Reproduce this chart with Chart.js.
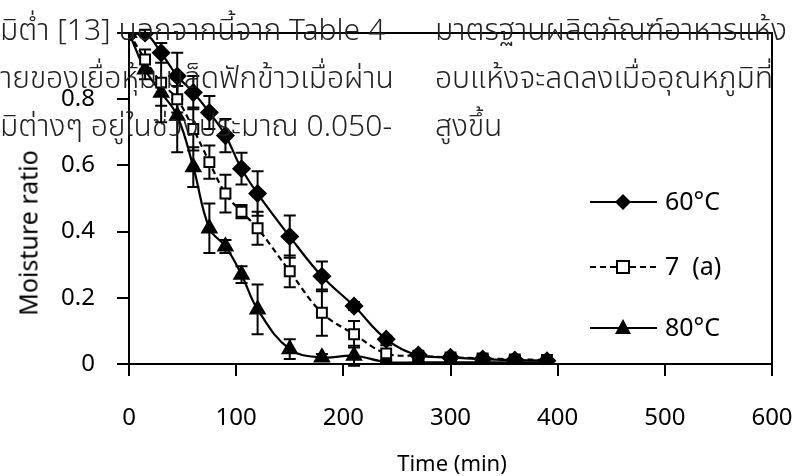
<!DOCTYPE html>
<html>
<head>
<meta charset="utf-8">
<script src="https://cdn.jsdelivr.net/npm/chart.js@4.4.1/dist/chart.umd.min.js"></script>
<style>
  body { margin: 0; background: #fff; }
  #wrap { position: relative; width: 799px; height: 476px; overflow: hidden; }
  #chart { position: absolute; left: 0; top: 0; }
  .txt { position: absolute; white-space: nowrap; font-family: "Noto Sans Thai", "Noto Sans", sans-serif; color: #222; line-height: 1; }
  .page { font-size: 30px; font-weight: 300; }
  .axt { font-size: 22px; color: #000; font-family: "Noto Sans", sans-serif; }
  #ytitle { font-size: 25px; }
</style>
</head>
<body>
<div id="wrap">
  <canvas id="chart" width="799" height="476"></canvas>
  <div class="txt page" style="left:0; top:16px">มิต่ำ [13] นอกจากนี้จาก Table 4</div>
  <div class="txt page" style="left:435px; top:16px">มาตรฐานผลิตภัณฑ์อาหารแห้ง</div>
  <div class="txt page" style="left:0; top:64px">ายของเยื่อหุ้มเมล็ดฟักข้าวเมื่อผ่าน</div>
  <div class="txt page" style="left:435px; top:64px">อบแห้งจะลดลงเมื่ออุณหภูมิที่</div>
  <div class="txt page" style="left:0; top:112px">มิต่างๆ อยู่ในช่วงประมาณ 0.050-</div>
  <div class="txt page" style="left:435px; top:112px">สูงขึ้น</div>
  <div class="txt axt" id="ytitle" style="left:28px; top:233px; transform: translate(-50%,-50%) rotate(-90deg)">Moisture ratio</div>
  <div class="txt axt" id="xtitle" style="left:452px; top:462px; transform: translate(-50%,-50%)">Time (min)</div>
</div>
<script>
// drying time (min)
var times = [0, 15, 30, 45, 60, 75, 90, 105, 120, 150, 180, 210, 240, 270, 300, 330, 360, 390];

// moisture ratio
var mr60 = [1.00, 1.00, 0.94, 0.87, 0.82, 0.76, 0.69, 0.59, 0.515, 0.385, 0.265, 0.175, 0.075, 0.027, 0.02, 0.015, 0.012, 0.01];
var mr7a = [1.00, 0.92, 0.85, 0.80, 0.71, 0.61, 0.515, 0.46, 0.41, 0.28, 0.155, 0.09, 0.032, 0.025, 0.02, 0.017, 0.014, 0.012];
var mr80 = [1.00, 0.89, 0.82, 0.75, 0.595, 0.41, 0.355, 0.27, 0.165, 0.045, 0.02, 0.025, 0.006, 0.005, 0.005, 0.005, 0.005, 0.005];

// +/- error
var err60 = [0, 0.01, 0.03, 0.07, 0.05, 0.05, 0.05, 0.048, 0.067, 0.064, 0.045, 0.012, 0.01, 0.008, 0.008, 0.008, 0.008, 0.008];
var err7a = [0, 0.03, 0.12, 0.04, 0.065, 0.05, 0.057, 0.02, 0.05, 0.048, 0.07, 0.04, 0.025, 0.01, 0.01, 0.01, 0.01, 0.01];
var err80 = [0, 0.03, 0.04, 0.11, 0.06, 0.075, 0.02, 0.025, 0.075, 0.03, 0.01, 0.03, 0.006, 0.005, 0.005, 0.005, 0.005, 0.005];

var legendLabels = ["60\u00B0C", "7  (a)", "80\u00B0C"];
var xTicks = [0, 100, 200, 300, 400, 500, 600];
var yTicks = [0, 0.2, 0.4, 0.6, 0.8, 1];

function toPoints(ys) {
    var pts = [];
    for (var i = 0; i < times.length; i++) {
        pts.push({ x: times[i], y: ys[i] });
    }
    return pts;
}

var errorBars = {
    id: "errorBars",
    beforeDatasetsDraw: function (chart) {
        var ctx = chart.ctx;
        var xs = chart.scales.x, ys = chart.scales.y;
        ctx.save();
        ctx.strokeStyle = "#000";
        ctx.lineWidth = 2;
        chart.data.datasets.forEach(function (ds) {
            ds.errors.forEach(function (e, i) {
                if (!e) return;
                var px = xs.getPixelForValue(ds.data[i].x);
                var top = ys.getPixelForValue(ds.data[i].y + e);
                var bot = ys.getPixelForValue(ds.data[i].y - e);
                ctx.beginPath();
                ctx.moveTo(px, top); ctx.lineTo(px, bot);
                ctx.moveTo(px - 6, top); ctx.lineTo(px + 6, top);
                ctx.moveTo(px - 6, bot); ctx.lineTo(px + 6, bot);
                ctx.stroke();
            });
        });
        ctx.restore();
    }
};

var frame = {
    id: "frame",
    afterDraw: function (chart) {
        var a = chart.chartArea, ctx = chart.ctx;
        ctx.save();
        ctx.strokeStyle = "#000";
        ctx.lineWidth = 2;
        ctx.beginPath();
        ctx.moveTo(a.left, a.top); ctx.lineTo(a.right, a.top); ctx.lineTo(a.right, a.bottom);
        ctx.stroke();
        ctx.restore();
    }
};

function marker(ctx, style, x, y) {
    ctx.beginPath();
    if (style === "rectRot") {
        ctx.moveTo(x, y - 8); ctx.lineTo(x + 8, y); ctx.lineTo(x, y + 8); ctx.lineTo(x - 8, y);
        ctx.closePath(); ctx.fillStyle = "#000"; ctx.fill();
    } else if (style === "rect") {
        ctx.rect(x - 6, y - 6, 12, 12);
        ctx.fillStyle = "#fff"; ctx.fill(); ctx.lineWidth = 2; ctx.setLineDash([]); ctx.stroke();
    } else {
        ctx.moveTo(x, y - 9); ctx.lineTo(x + 8, y + 6); ctx.lineTo(x - 8, y + 6);
        ctx.closePath(); ctx.fillStyle = "#000"; ctx.fill();
    }
}

var insideLegend = {
    id: "insideLegend",
    afterDraw: function (chart) {
        var ctx = chart.ctx;
        var rows = [202, 267, 328];
        ctx.save();
        ctx.font = "25px 'Noto Sans', sans-serif";
        ctx.textBaseline = "middle";
        chart.data.datasets.forEach(function (ds, i) {
            var y = rows[i];
            ctx.strokeStyle = "#000";
            ctx.lineWidth = 2;
            ctx.setLineDash(ds.borderDash || []);
            ctx.beginPath();
            ctx.moveTo(590, y); ctx.lineTo(657, y);
            ctx.stroke();
            ctx.setLineDash([]);
            marker(ctx, ds.pointStyle, 623, y);
            ctx.fillStyle = "#000";
            ctx.fillText(ds.label, 665, y + 1);
        });
        ctx.restore();
    }
};

var ctx = document.getElementById("chart").getContext("2d");
var myChart = new Chart(ctx, {
    type: "line",
    data: {
        datasets: [{
            label: legendLabels[0],
            data: toPoints(mr60),
            errors: err60,
            borderColor: "#000",
            borderWidth: 2.2,
            pointStyle: "rectRot",
            pointRadius: 8,
            pointBackgroundColor: "#000",
            pointBorderColor: "#000",
            tension: 0.4
        }, {
            label: legendLabels[1],
            data: toPoints(mr7a),
            errors: err7a,
            borderColor: "#000",
            borderWidth: 2.2,
            borderDash: [6, 4],
            pointStyle: "rect",
            pointRadius: 7,
            pointBorderWidth: 2,
            pointBackgroundColor: "#fff",
            pointBorderColor: "#000",
            tension: 0.4
        }, {
            label: legendLabels[2],
            data: toPoints(mr80),
            errors: err80,
            borderColor: "#000",
            borderWidth: 2.2,
            pointStyle: "triangle",
            pointRadius: 8,
            pointBackgroundColor: "#000",
            pointBorderColor: "#000",
            tension: 0.4
        }]
    },
    options: {
        responsive: false,
        animation: false,
        layout: { padding: { top: 33, right: 27, left: 0, bottom: 0 } },
        plugins: { legend: { display: false }, tooltip: { enabled: false } },
        elements: { line: { fill: false } },
        scales: {
            x: {
                type: "linear",
                min: 0,
                max: 600,
                afterBuildTicks: function (s) { s.ticks = xTicks.map(function (v) { return { value: v }; }); },
                afterFit: function (s) { s.height = 476 - 364; s.paddingLeft = 0; s.paddingRight = 0; },
                grid: { drawOnChartArea: false, drawTicks: true, tickLength: 12, color: "#000", lineWidth: 2 },
                border: { color: "#000", width: 2 },
                ticks: { color: "#000", padding: 28, maxRotation: 0, font: { family: "'Noto Sans', sans-serif", size: 24 } }
            },
            y: {
                min: 0,
                max: 1,
                afterBuildTicks: function (s) { s.ticks = yTicks.map(function (v) { return { value: v }; }); },
                afterFit: function (s) { s.width = 129; s.paddingTop = 0; s.paddingBottom = 0; },
                grid: { drawOnChartArea: false, drawTicks: true, tickLength: 12, color: "#000", lineWidth: 2 },
                border: { color: "#000", width: 2 },
                ticks: {
                    color: "#000", padding: 22, font: { family: "'Noto Sans', sans-serif", size: 24 },
                    callback: function (v) { return v === 1 ? "" : v; }
                }
            }
        }
    },
    plugins: [errorBars, frame, insideLegend]
});
</script>
</body>
</html>
